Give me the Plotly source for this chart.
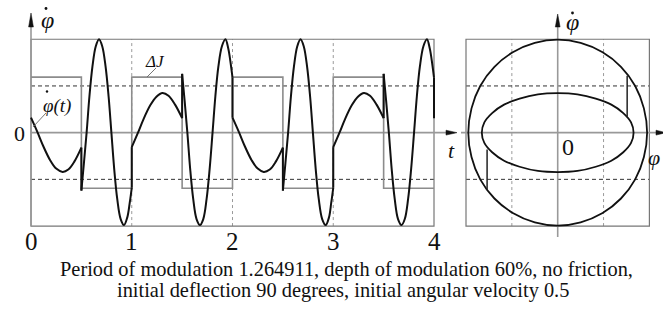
import plotly.graph_objects as go

W, H = 663, 311
SERIF = "Liberation Serif"

# ---------------- data ----------------
# square wave ΔJ (moment of inertia modulation)
dj_t = [0, 0.5, 1, 1.5, 2, 2.5, 3, 3.5, 4]
dj_v = [1.19, -1.19, 1.19, -1.19, 1.19, -1.19, 1.19, -1.19, -1.19]

# φ̇(t): smooth pieces between the switching moments
seg_t = [
    [0, 0.066, 0.12, 0.19, 0.25, 0.314, 0.37, 0.43, 0.5],
    [0.5, 0.525, 0.552, 0.58, 0.61, 0.643, 0.675, 0.707, 0.74, 0.77, 0.798,
     0.826, 0.856, 0.89, 0.923, 0.955, 0.98, 1.0],
    [1.0, 1.062, 1.115, 1.185, 1.245, 1.305, 1.365, 1.43, 1.5],
    [1.5, 1.525, 1.552, 1.58, 1.61, 1.643, 1.677, 1.71, 1.743, 1.773, 1.802,
     1.83, 1.86, 1.895, 1.93, 1.958, 1.982, 2.0],
    [2.0, 2.066, 2.12, 2.19, 2.25, 2.31, 2.37, 2.43, 2.5],
    [2.5, 2.525, 2.552, 2.58, 2.61, 2.643, 2.675, 2.707, 2.74, 2.77, 2.798,
     2.826, 2.856, 2.89, 2.925, 2.957, 2.98, 3.0],
    [3.0, 3.062, 3.115, 3.185, 3.245, 3.305, 3.365, 3.43, 3.5],
    [3.5, 3.525, 3.552, 3.58, 3.61, 3.643, 3.678, 3.71, 3.743, 3.773, 3.802,
     3.83, 3.86, 3.895, 3.93, 3.958, 3.982, 4.0],
    [4.0],
]
seg_v = [
    [0.32, 0, -0.28, -0.59, -0.77, -0.84, -0.79, -0.62, -0.32],
    [-1.24, -0.66, 0, 0.78, 1.42, 1.85, 2.0, 1.85, 1.42, 0.78, 0,
     -0.78, -1.42, -1.85, -1.98, -1.82, -1.5, -1.18],
    [-0.31, 0, 0.28, 0.59, 0.77, 0.85, 0.79, 0.6, 0.31],
    [1.26, 0.68, 0, -0.78, -1.42, -1.85, -1.98, -1.85, -1.42, -0.78, 0,
     0.78, 1.42, 1.85, 2.0, 1.8, 1.48, 1.18],
    [0.32, 0, -0.28, -0.59, -0.77, -0.84, -0.79, -0.62, -0.32],
    [-1.24, -0.66, 0, 0.78, 1.42, 1.85, 2.0, 1.85, 1.42, 0.78, 0,
     -0.78, -1.42, -1.85, -1.98, -1.82, -1.5, -1.18],
    [-0.31, 0, 0.28, 0.59, 0.77, 0.85, 0.79, 0.6, 0.31],
    [1.26, 0.68, 0, -0.78, -1.42, -1.85, -1.98, -1.85, -1.42, -0.78, 0,
     0.78, 1.42, 1.85, 2.0, 1.8, 1.48, 1.18],
    [0.31],
]

# phase portrait (φ, φ̇)
outer_phi = [0, 0.50, 0.98, 1.38, 1.69, 1.88, 1.95, 1.88, 1.69, 1.38, 0.98, 0.50, 0,
             -0.50, -0.98, -1.38, -1.69, -1.88, -1.95, -1.88, -1.69, -1.38, -0.98, -0.50, 0]
outer_v = [1.99, 1.92, 1.72, 1.41, 1.00, 0.52, 0, -0.52, -1.00, -1.41, -1.72, -1.92, -1.99,
           -1.92, -1.72, -1.41, -1.00, -0.52, 0, 0.52, 1.00, 1.41, 1.72, 1.92, 1.99]
inner_phi = [0, 0.43, 0.83, 1.17, 1.43, 1.60, 1.655, 1.60, 1.43, 1.17, 0.83, 0.43, 0,
             -0.43, -0.83, -1.17, -1.43, -1.60, -1.655, -1.60, -1.43, -1.17, -0.83, -0.43, 0]
inner_v = [0.845, 0.82, 0.73, 0.60, 0.42, 0.22, 0, -0.22, -0.42, -0.60, -0.73, -0.82, -0.845,
           -0.82, -0.73, -0.60, -0.42, -0.22, 0, 0.22, 0.42, 0.60, 0.73, 0.82, 0.845]
jump_phi = [1.515, -1.54]
jump_from = [0.34, -0.36]
jump_to = [1.22, -1.23]

caption1 = "Period of modulation 1.264911, depth of modulation 60%, no friction,"
caption2 = "initial deflection 90 degrees, initial angular velocity 0.5"

# ---------------- geometry (pixel placement of the two panels) ----------------
T0, TU = 31.0, 100.75        # px of t=0, px per unit t
Y0, YU = 132.65, 46.7        # px of φ̇=0, px per unit
P0, PU = 557.7, 45.85        # px of φ=0, px per unit φ
SPLIT = 460.0


def tx(px):
    return (px - T0) / TU


def vy(py):
    return (Y0 - py) / YU


def fx(px):
    return (px - P0) / PU


fig = go.Figure()

# ΔJ square wave
fig.add_trace(go.Scatter(x=dj_t, y=dj_v, mode="lines", line=dict(color="#8c8c8c", width=1.6, shape="hv"),
                         xaxis="x", yaxis="y", hoverinfo="skip"))

# φ̇(t) smooth pieces
xs, ys = [], []
for a, b in zip(seg_t, seg_v):
    if len(a) > 1:
        xs += a + [None]
        ys += b + [None]
fig.add_trace(go.Scatter(x=xs, y=ys, mode="lines", line=dict(color="#111", width=2, shape="spline", smoothing=1),
                         connectgaps=False, xaxis="x", yaxis="y", hoverinfo="skip"))
# jumps of φ̇ at switching moments
jx, jy = [], []
for i in range(len(seg_t) - 1):
    jx += [seg_t[i][-1], seg_t[i + 1][0], None]
    jy += [seg_v[i][-1], seg_v[i + 1][0], None]
fig.add_trace(go.Scatter(x=jx, y=jy, mode="lines", line=dict(color="#111", width=2),
                         xaxis="x", yaxis="y", hoverinfo="skip"))

# phase portrait
fig.add_trace(go.Scatter(x=outer_phi, y=outer_v, mode="lines", line=dict(color="#111", width=1.8, shape="spline"),
                         xaxis="x2", yaxis="y2", hoverinfo="skip"))
fig.add_trace(go.Scatter(x=inner_phi, y=inner_v, mode="lines", line=dict(color="#111", width=1.8, shape="spline"),
                         xaxis="x2", yaxis="y2", hoverinfo="skip"))
px_, py_ = [], []
for p, a, b in zip(jump_phi, jump_from, jump_to):
    px_ += [p, p, None]
    py_ += [a, b, None]
fig.add_trace(go.Scatter(x=px_, y=py_, mode="lines", line=dict(color="#222", width=1.5),
                         xaxis="x2", yaxis="y2", hoverinfo="skip"))

shapes = []
GRID = "#777"
DASH = "#333"
DOT = "#9a9a9a"


def line(x0, y0, x1, y1, color, width, dash="solid", ax="", layer="below"):
    shapes.append(dict(type="line", xref="x" + ax, yref="y" + ax, x0=x0, y0=y0, x1=x1, y1=y1,
                       line=dict(color=color, width=width, dash=dash), layer=layer))


def tri(pts, ax=""):
    d = "M " + " L ".join(f"{a},{b}" for a, b in pts) + " Z"
    shapes.append(dict(type="path", xref="x" + ax, yref="y" + ax, path=d,
                       fillcolor="#111", line=dict(color="#111", width=0.5), layer="above"))


def dot(cx, cy, r, ax=""):
    conv = fx if ax == "2" else tx
    shapes.append(dict(type="circle", xref="x" + ax, yref="y" + ax,
                       x0=conv(cx - r), x1=conv(cx + r), y0=vy(cy + r), y1=vy(cy - r),
                       fillcolor="#111", line=dict(width=0), layer="above"))


# ---- left panel decorations ----
for tv in [1, 2, 3]:
    line(tv, -2, tv, 2, DOT, 1, "dot")
for vv in [1, -1]:
    line(0, vv, 4, vv, DASH, 1, "4px,3px")
shapes.append(dict(type="rect", xref="x", yref="y", x0=0, y0=-2, x1=4, y1=2,
                   line=dict(color=GRID, width=1.2), layer="below"))
line(0, 0, tx(447), 0, "#999", 1.6)
line(0, -2, 0, vy(26), "#999", 1.6)
tri([(tx(446), vy(130.2)), (tx(457), vy(132.65)), (tx(446), vy(135.1))])
tri([(tx(28.6), vy(27)), (tx(31), vy(13)), (tx(33.4), vy(27))])
# leader lines
line(tx(33), vy(127), tx(46), vy(113), "#666", 0.9, layer="above")
line(tx(147), vy(77), tx(156), vy(68), "#666", 0.9, layer="above")

# ---- right panel decorations ----
for pv in [1, -1]:
    line(pv, -2, pv, 2, DOT, 1, "dot", ax="2")
for vv in [1, -1]:
    line(-2, vv, 2, vv, DASH, 1, "4px,3px", ax="2")
shapes.append(dict(type="rect", xref="x2", yref="y2", x0=-2, y0=-2, x1=2, y1=2,
                   line=dict(color=GRID, width=1.2), layer="below"))
line(fx(461), 0, fx(657), 0, "#999", 1.6, ax="2")
line(0, vy(237), 0, vy(26), "#999", 1.6, ax="2")
tri([(fx(656), vy(130.2)), (fx(666), vy(132.65)), (fx(656), vy(135.1))], ax="2")
tri([(fx(555.3), vy(27)), (fx(557.7), vy(14)), (fx(560.1), vy(27))], ax="2")

# dots of the time derivative
dot(46, 8.5, 1.4)
dot(47, 91.5, 1.2)
dot(572.5, 13, 1.4, ax="2")

fig.update_layout(shapes=shapes)

ann = []


def text(s, x, y, size, ax="", italic=False, xanchor="center"):
    if italic:
        s = "<i>" + s + "</i>"
    ann.append(dict(text=s, x=x, y=y, xref="x" + ax, yref="y" + ax, showarrow=False,
                    font=dict(family=SERIF, size=size, color="#111"), xanchor=xanchor, yanchor="middle"))


# tick labels
for tv in [0, 1, 2, 3, 4]:
    text(str(tv), tv, vy(241.5), 25)
text("0", tx(19), vy(133), 22)
text("φ", tx(47.5), vy(20), 24, italic=True)
text("φ(t)", tx(57), vy(106), 19, italic=True)
text("ΔJ", tx(155), vy(61), 17, italic=True)
text("t", tx(451), vy(150), 22, italic=True)

text("0", fx(567.5), vy(146.5), 24, ax="2")
text("φ", fx(572), vy(22), 24, ax="2", italic=True)
text("φ", fx(662), vy(157), 22, ax="2", italic=True, xanchor="right")

for s, yy, cx in [(caption1, 269.5, 346), (caption2, 290.5, 343)]:
    ann.append(dict(text=s, x=cx / W, y=1 - yy / H, xref="paper", yref="paper", showarrow=False,
                    font=dict(family=SERIF, size=20.4, color="#111"), xanchor="center", yanchor="middle"))

fig.update_layout(annotations=ann)

ax_common = dict(visible=False, fixedrange=True)
fig.update_layout(
    width=W, height=H, autosize=False,
    margin=dict(l=0, r=0, t=0, b=0, pad=0),
    paper_bgcolor="white", plot_bgcolor="white",
    showlegend=False,
    xaxis=dict(domain=[0, SPLIT / W], range=[tx(0), tx(SPLIT)], **ax_common),
    yaxis=dict(domain=[0, 1], range=[vy(H), vy(0)], **ax_common),
    xaxis2=dict(domain=[SPLIT / W, 1], range=[fx(SPLIT), fx(W)], anchor="y2", **ax_common),
    yaxis2=dict(domain=[0, 1], range=[vy(H), vy(0)], anchor="x2", **ax_common),
)

fig.write_html("out.html", config={"displayModeBar": False},
               post_script="document.body.style.margin='0';document.body.style.padding='0';")
